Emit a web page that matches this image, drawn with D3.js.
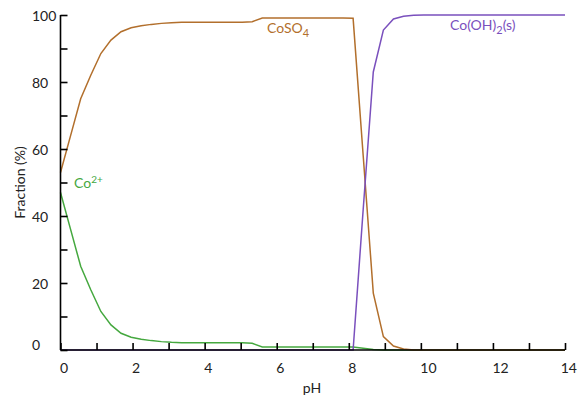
<!DOCTYPE html>
<html>
<head>
<meta charset="utf-8">
<script src="https://cdn.jsdelivr.net/npm/d3@7"></script>
<style>
	body { margin: 0; background: #fff; overflow: hidden; }
	text { font-family: Lato, 'Open Sans', sans-serif; font-size: 14px; fill: #222; }
	.axis path, .axis line { stroke: #000; stroke-width: 1.6; }
	.curve { fill: none; stroke-width: 1.5; }
</style>
</head>
<body>
<div id="chart"></div>
<script>
// pH grid: 51 points, step 0.28
let ph = d3.range(51).map(i => +(i * 0.28).toFixed(2))

let co2 = [47, 36, 25, 18, 11.5, 7.5, 5, 3.8, 3.2, 2.8, 2.5, 2.3, 2.2, 2.2, 2.2, 2.2, 2.2, 2.2, 2.2, 2.0,
	0.9, 0.9, 0.9, 0.9, 0.9, 0.9, 0.9, 0.9, 0.9, 0.9, 0.5, 0.15, 0, 0, 0, 0, 0, 0, 0, 0,
	0, 0, 0, 0, 0, 0, 0, 0, 0, 0, 0]
let coso4 = [53, 64, 75, 82, 88.5, 92.5, 95, 96.2, 96.8, 97.2, 97.5, 97.7, 97.8, 97.8, 97.8, 97.8, 97.8, 97.8, 97.8, 98.0,
	99.1, 99.1, 99.1, 99.1, 99.1, 99.1, 99.1, 99.1, 99.1, 99.0, 58, 17, 4, 1.2, 0.3, 0, 0, 0, 0, 0,
	0, 0, 0, 0, 0, 0, 0, 0, 0, 0, 0]
let cooh2 = [0, 0, 0, 0, 0, 0, 0, 0, 0, 0, 0, 0, 0, 0, 0, 0, 0, 0, 0, 0,
	0, 0, 0, 0, 0, 0, 0, 0, 0, 0, 42, 83, 95.5, 98.8, 99.6, 99.9, 100, 100, 100, 100,
	100, 100, 100, 100, 100, 100, 100, 100, 100, 100, 100]

let xTicks = d3.range(0, 15, 1)
let yTicks = d3.range(0, 101, 10)

let width = 578, height = 399
let margin = { left: 60.5, right: 13, top: 15, bottom: 49 }

let svg = d3.select('#chart')
.append('svg')
.attr('width', width)
.attr('height', height)

let x = d3.scaleLinear().domain([0, 14]).range([margin.left, width - margin.right])
let y = d3.scaleLinear().domain([0, 100]).range([height - margin.bottom, margin.top])

let series = [
	{ values: co2, color: '#45a83f' },
	{ values: coso4, color: '#b26f2c' },
	{ values: cooh2, color: '#7a50bd' }
]

let line = d3.line()
.x((d, i) => x(ph[i]))
.y(d => y(d))

svg.selectAll('.curve')
.data(series)
.join('path')
.attr('class', 'curve')
.attr('stroke', d => d.color)
.attr('d', d => line(d.values))

// axes, ticks pointing inward
let xAxis = svg.append('g')
.attr('class', 'axis')
.attr('transform', `translate(0, ${y(0)})`)
.call(d3.axisTop(x).tickValues(xTicks).tickSize(7).tickSizeOuter(7).tickFormat(''))
xAxis.select('.domain').attr('d', `M${x(0)},0H${x(14)}`)

// tick labels start at the tick (as in the original), last one kept inside the page
svg.append('g')
.selectAll('text')
.data(xTicks.filter(d => d % 2 == 0))
.join('text')
.attr('x', d => d == 14 ? width - 1 : x(d) - 0.5)
.attr('y', y(0) + 23)
.attr('text-anchor', d => d == 14 ? 'end' : 'start')
.text(d => d)

let yAxis = svg.append('g')
.attr('class', 'axis')
.attr('transform', `translate(${x(0)}, 0)`)
.call(d3.axisRight(y).tickValues(yTicks).tickSize(7).tickFormat(''))
yAxis.select('.domain').attr('d', `M0,${y(100)}V${y(0)}`)

svg.append('g')
.selectAll('text')
.data(yTicks.filter(d => d % 20 == 0))
.join('text')
.attr('x', 32)
.attr('y', d => d == 0 ? y(0) : y(d) + 6)
.text(d => d)

svg.append('text')
.attr('transform', `translate(25, ${(y(0) + y(100)) / 2}) rotate(-90)`)
.attr('text-anchor', 'middle')
.text('Fraction (%)')

svg.append('text')
.attr('x', 312)
.attr('y', 393)
.attr('text-anchor', 'middle')
.text('pH')

// species labels
let l1 = svg.append('text').attr('x', 267).attr('y', 33).style('fill', '#b26f2c')
l1.append('tspan').text('CoSO')
l1.append('tspan').attr('dy', 4).style('font-size', '11px').text('4')

let l2 = svg.append('text').attr('x', 450).attr('y', 30).style('fill', '#7a50bd')
l2.append('tspan').text('Co(OH)')
l2.append('tspan').attr('dy', 4).style('font-size', '11px').text('2')
l2.append('tspan').attr('dy', -4).text('(s)')

let l3 = svg.append('text').attr('x', 74).attr('y', 188).style('fill', '#45a83f')
l3.append('tspan').text('Co')
l3.append('tspan').attr('dy', -5).style('font-size', '10px').text('2+')
</script>
</body>
</html>
